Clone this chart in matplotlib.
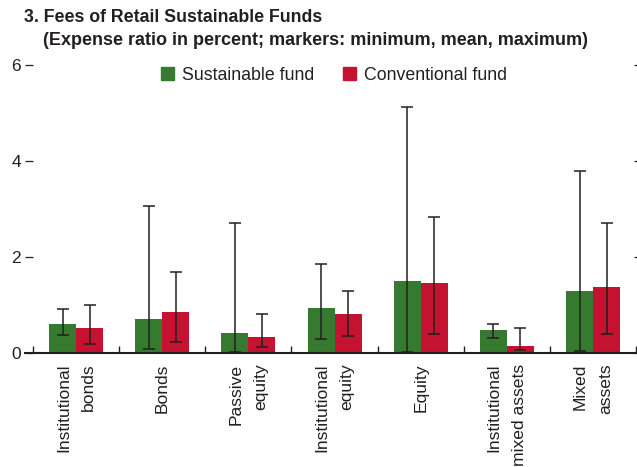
import matplotlib.pyplot as plt
from matplotlib.patches import Patch
from matplotlib.ticker import MultipleLocator
import numpy as np

plt.rcParams['font.family'] = ['Liberation Sans', 'DejaVu Sans']

categories = ["Institutional\nbonds", "Bonds", "Passive\nequity", "Institutional\nequity",
              "Equity", "Institutional\nmixed assets", "Mixed\nassets"]

# mean / min / max of expense ratio (percent)
sust_mean = [0.59, 0.71, 0.42, 0.94, 1.49, 0.48, 1.28]
sust_min = [0.36, 0.07, 0.01, 0.28, 0.01, 0.31, 0.04]
sust_max = [0.91, 3.05, 2.71, 1.85, 5.12, 0.59, 3.79]

conv_mean = [0.52, 0.84, 0.33, 0.80, 1.46, 0.15, 1.38]
conv_min = [0.19, 0.23, 0.12, 0.34, 0.40, 0.05, 0.40]
conv_max = [1.00, 1.68, 0.80, 1.28, 2.84, 0.51, 2.71]

green = "#357a2e"
red = "#c41230"
ink = "#231f20"

fig = plt.figure(figsize=(6.37, 4.67), dpi=100)
ax = fig.add_axes([25 / 637, 1 - 352.7 / 467, 1 - 25 / 637, (352.7 - 65) / 467])

x = np.arange(len(categories))
w = 0.314

err_kw = dict(fmt="none", ecolor=ink, elinewidth=1.1, capsize=4.5, capthick=1.1)

ax.bar(x - w / 2, sust_mean, w, color=green, zorder=2)
ax.bar(x + w / 2, conv_mean, w, color=red, zorder=2)
ax.errorbar(x - w / 2, sust_mean,
            yerr=[np.array(sust_mean) - sust_min, np.array(sust_max) - sust_mean],
            zorder=3, **err_kw)
ax.errorbar(x + w / 2, conv_mean,
            yerr=[np.array(conv_mean) - conv_min, np.array(conv_max) - conv_mean],
            zorder=3, **err_kw)

ax.set_xlim(-0.593, 6.51)
ax.set_ylim(0, 6)

for s in ["top", "left", "right"]:
    ax.spines[s].set_visible(False)
ax.spines["bottom"].set_linewidth(1.5)
ax.spines["bottom"].set_color(ink)

ax.yaxis.set_major_locator(MultipleLocator(2))
ax.tick_params(axis="y", direction="in", length=6, width=0.9, color=ink,
               labelsize=12.5, labelcolor=ink, pad=3, right=True, labelright=False)
for t in ax.yaxis.get_major_ticks():
    t.tick2line.set_markersize(2.5)

ax.set_xticks(x)
ax.set_xticklabels(categories, rotation=90, ha="center", va="top",
                   multialignment="right", fontsize=12.6, color=ink, linespacing=1.85)
ax.tick_params(axis="x", which="major", length=0, pad=8)
ax.set_xticks(np.arange(-0.5, 7, 1), minor=True)
ax.tick_params(axis="x", which="minor", direction="in", length=5, width=1.0, color=ink)

handles = [Patch(color=green, label="Sustainable fund"),
           Patch(color=red, label="Conventional fund")]
leg = fig.legend(handles=handles, loc="center", bbox_to_anchor=(334 / 637, 1 - 75 / 467),
                 ncol=2, frameon=False, fontsize=12.8, handlelength=0.75, handleheight=0.75,
                 handletextpad=0.45, columnspacing=1.6)
for txt in leg.get_texts():
    txt.set_color(ink)

t1 = fig.text(24 / 637, 1 - 22 / 467, "3. Fees of Retail Sustainable Funds",
              fontsize=12, fontweight="bold", ha="left", va="baseline", color=ink)
t2 = fig.text(43 / 637, 1 - 45 / 467, "(Expense ratio in percent; markers: minimum, mean, maximum)",
              fontsize=12, fontweight="bold", ha="left", va="baseline", color=ink)

# scale the title lines to the widths they take in the reference
r = fig.canvas.get_renderer()
for t, target in [(t1, 297), (t2, 542)]:
    wpx = t.get_window_extent(r).width
    t.set_fontsize(t.get_fontsize() * target / wpx)

fig.savefig("out.png", dpi=100)
